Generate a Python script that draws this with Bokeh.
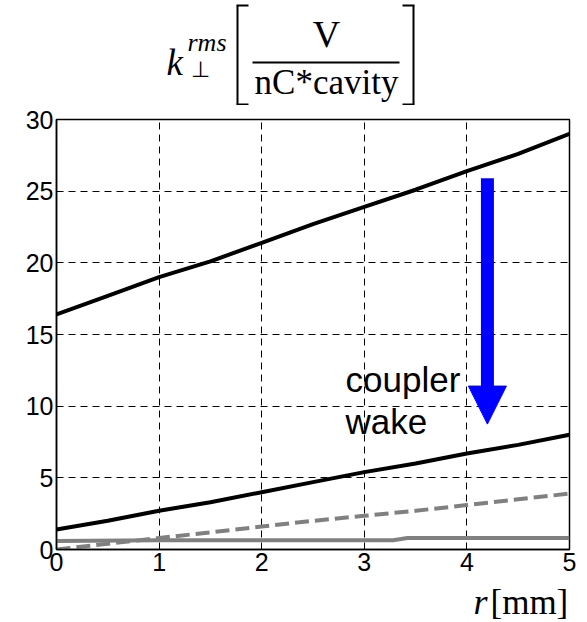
from bokeh.plotting import figure
from bokeh.models import Label, Arrow, NormalHead, FixedTicker, Range1d
from bokeh.layouts import column
from bokeh.embed import file_html
from bokeh.resources import INLINE

# data
r = [0, 0.5, 1, 1.5, 2, 2.5, 3, 3.5, 4, 4.5, 5]
k_top = [16.4, 17.7, 19.0, 20.1, 21.4, 22.7, 23.9, 25.1, 26.4, 27.6, 29.0]
k_mid = [1.4, 2.0, 2.7, 3.3, 4.0, 4.7, 5.4, 6.0, 6.7, 7.3, 8.0]
k_dash = [0.0, 0.4, 0.8, 1.2, 1.6, 2.0, 2.35, 2.7, 3.1, 3.5, 3.9]
r_flat = [0, 1, 2, 3, 3.28, 3.42, 4, 5]
k_flat = [0.6, 0.65, 0.65, 0.65, 0.65, 0.8, 0.8, 0.8]
x_ticks = [0, 1, 2, 3, 4, 5]
y_ticks = [0, 5, 10, 15, 20, 25, 30]
arrow_x = 4.2
arrow_from = 25.9
arrow_to = 8.75

W = 587
LEFT, RIGHT = 56, 18
H_TOP, H_MAIN, H_BOT = 105, 475, 42
TOP_MAIN = 119 - H_TOP


def blank(h):
    # strip whose frame lines up with the main frame; data units = page pixels
    f = figure(width=W, height=h, x_range=Range1d(LEFT, W - RIGHT), y_range=Range1d(h, 0),
               output_backend="svg", toolbar_location=None,
               min_border_left=LEFT, min_border_right=RIGHT,
               min_border_top=0, min_border_bottom=0)
    f.axis.visible = False
    f.grid.visible = False
    f.outline_line_color = None
    f.background_fill_color = "white"
    f.border_fill_color = "white"
    return f


serif = dict(text_font="Liberation Serif", text_color="black", text_baseline="alphabetic")
B = 0.34  # baseline correction (fraction of font size)

# ---- title strip
pt = blank(H_TOP)
pt.add_layout(Label(x=166, y=75 - B * 37, text="k", text_font_style="italic",
                    text_font_size="37px", **serif))
pt.add_layout(Label(x=187, y=51 - B * 26, text="rms", text_font_style="italic",
                    text_font_size="26px", **serif))
pt.add_layout(Label(x=190, y=76 - B * 22, text="⊥", text_font_size="22px", **serif))
pt.add_layout(Label(x=326, y=46 - B * 38, text="V", text_align="center",
                    text_font_size="38px", **serif))
pt.add_layout(Label(x=326, y=94 - B * 35, text="nC*cavity", text_align="center",
                    text_font_size="35px", **serif))


def seg(f, x0, y0, x1, y1, w=2):
    f.add_layout(Arrow(end=None, x_start=x0, y_start=y0, x_end=x1, y_end=y1,
                       line_color="black", line_width=w))


seg(pt, 252, 62, 399, 62, 2)
seg(pt, 237, 5, 237, 104)
seg(pt, 236, 5, 248, 5)
seg(pt, 236, 104, 248, 104)
seg(pt, 413, 5, 413, 104)
seg(pt, 402, 5, 414, 5)
seg(pt, 402, 104, 414, 104)

# ---- main plot
p = figure(width=W, height=H_MAIN, x_range=(0, 5), y_range=(0, 30),
           output_backend="svg", toolbar_location=None,
           min_border_left=LEFT, min_border_right=RIGHT,
           min_border_top=TOP_MAIN, min_border_bottom=H_MAIN - TOP_MAIN - 430)

p.background_fill_color = "white"
p.border_fill_color = "white"
p.outline_line_color = "black"
p.outline_line_width = 1.5

for ax in (p.xaxis[0], p.yaxis[0]):
    ax.axis_line_color = "black"
    ax.axis_line_width = 1.5
    ax.major_tick_in = 5
    ax.major_tick_out = 0
    ax.minor_tick_line_color = None
    ax.major_label_text_font = "Liberation Sans"
    ax.major_label_text_font_size = "25px"
    ax.major_label_text_color = "black"
    ax.major_tick_line_color = "black"

p.xaxis.ticker = FixedTicker(ticks=x_ticks)
p.yaxis.ticker = FixedTicker(ticks=y_ticks)
p.xaxis.major_label_standoff = 3
p.yaxis.major_label_standoff = 3

p.grid.grid_line_color = "black"
p.grid.grid_line_dash = "7 5"
p.grid.grid_line_width = 1
p.xgrid.ticker = FixedTicker(ticks=x_ticks)
p.ygrid.ticker = FixedTicker(ticks=y_ticks)

p.line(r, k_top, line_color="black", line_width=4)
p.line(r, k_mid, line_color="black", line_width=4)
p.line(r, k_dash, line_color="#808080", line_width=4, line_dash="14 6")
p.line(r_flat, k_flat, line_color="#808080", line_width=4)

p.add_layout(Arrow(end=NormalHead(size=38, fill_color="blue", line_color="blue"),
                   x_start=arrow_x, y_start=arrow_from, x_end=arrow_x, y_end=arrow_to,
                   line_color="blue", line_width=13))

sans = dict(text_font="Liberation Sans", text_font_size="35px", text_color="black",
            text_baseline="alphabetic")
shift = B * 35 / 14.317
p.add_layout(Label(x=2.817, y=11.0 + shift, text="coupler", **sans))
p.add_layout(Label(x=2.817, y=8.07 + shift, text="wake", **sans))

# ---- x label strip
pb = blank(H_BOT)
base = 614 - (H_TOP + H_MAIN)
pb.add_layout(Label(x=473, y=base - B * 36, text="r", text_font_style="italic",
                    text_font_size="36px", **serif))
pb.add_layout(Label(x=490, y=base - B * 36, text="[mm]", text_font_size="35px", **serif))

layout = column(pt, p, pb, spacing=0)
open("out.html", "w").write(file_html(layout, INLINE))
